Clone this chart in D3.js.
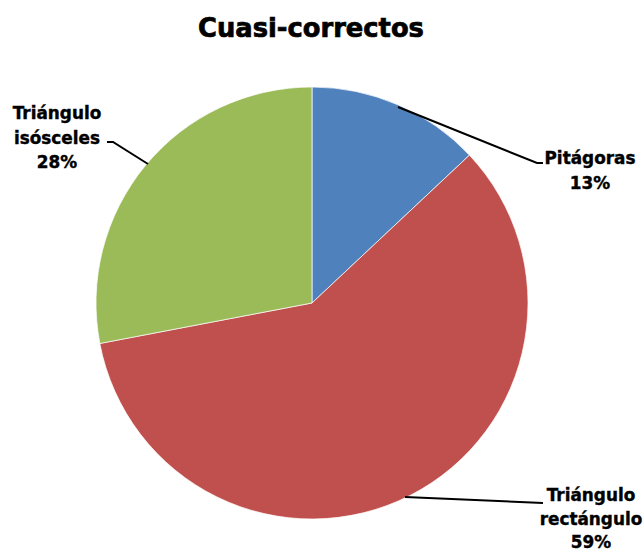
<!DOCTYPE html>
<html><head><meta charset="utf-8">
<script src="https://cdn.jsdelivr.net/npm/d3@7"></script>
<style>body{margin:0;background:#fff}svg{display:block}</style>
</head><body>
<script>
const title = "Cuasi-correctos";
const categories = ["Pitágoras", "Triángulo rectángulo", "Triángulo isósceles"];
const values = [13, 59, 28];
const labelLines = [["Pitágoras", "13%"], ["Triángulo", "rectángulo", "59%"], ["Triángulo", "isósceles", "28%"]];
const colors = ["#4F81BD", "#C0504D", "#9BBB59"];

const W = 643, H = 554, cx = 312, cy = 303, R = 216;
const FONT = "'DejaVu Sans', sans-serif";
const svg = d3.select("body").append("svg").attr("width", W).attr("height", H);

function fitSize(str, target) {
  const t = svg.append("text").style("font-family", FONT).style("font-weight", "bold")
    .style("font-size", "100px").text(str);
  const w = t.node().getComputedTextLength();
  t.remove();
  return 100 * target / w;
}

const titleSize = fitSize(title, 226);
svg.append("text").attr("x", 311).attr("y", 37).attr("text-anchor", "middle")
  .style("font-family", FONT).style("font-weight", "bold").style("font-size", titleSize + "px")
  .attr("stroke", "#000").attr("stroke-width", 0.7).text(title);

const pie = d3.pie().sort(null).value(d => d)(values);
const arc = d3.arc().innerRadius(0).outerRadius(R);
const g = svg.append("g").attr("transform", `translate(${cx},${cy})`);
g.selectAll("path").data(pie).join("path").attr("d", arc)
  .attr("fill", (d, i) => colors[i]).attr("stroke", "#fff").attr("stroke-width", 0.7);

const labelPos = [
  {x: 590, y: 164, line: [[398,107],[537,163],[543,163]]},
  {x: 591, y: 501, line: [[405,497],[543,503]]},
  {x: 57, y: 119, line: [[148,164],[113,142],[107,142]]}
];
const lsize = fitSize("Pitágoras", 91);
labelPos.forEach((p, i) => {
  const lh = i === 1 ? 23.5 : 24.5;
  svg.append("path").attr("d", d3.line()(p.line)).attr("fill", "none")
    .attr("stroke", "#000").attr("stroke-width", 2);
  const t = svg.append("text").attr("text-anchor", "middle")
    .style("font-family", FONT).style("font-weight", "bold").style("font-size", lsize + "px")
    .attr("stroke", "#000").attr("stroke-width", 0.4);
  labelLines[i].forEach((s, j) => {
    t.append("tspan").attr("x", p.x).attr("y", p.y + j * lh).text(s);
  });
});
</script>
</body></html>
